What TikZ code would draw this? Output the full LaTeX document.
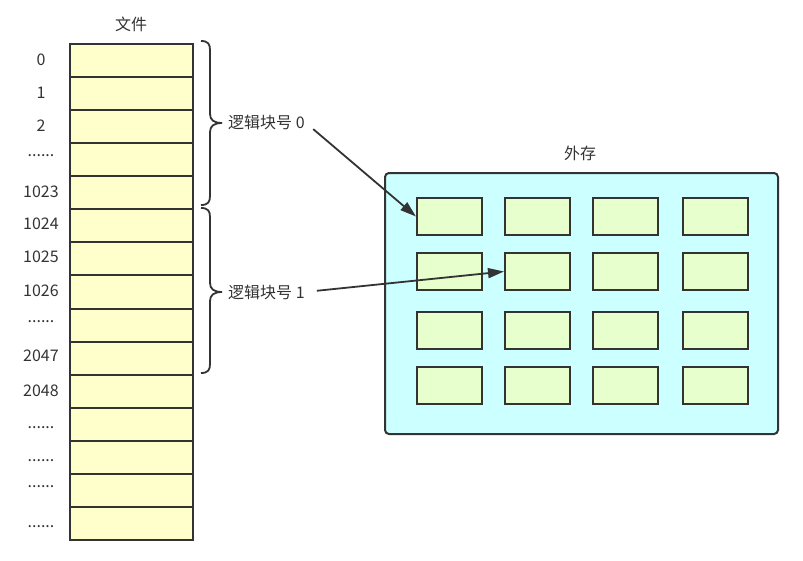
\documentclass[tikz,border=0pt]{standalone}
\usepackage{fontspec}
\setmainfont{Noto Sans CJK SC}
\usetikzlibrary{arrows.meta}
\definecolor{txt}{HTML}{333333}
\definecolor{lc}{HTML}{333333}
\definecolor{fileyellow}{HTML}{FFFFCC}
\definecolor{cyanbg}{HTML}{CCFFFF}
\definecolor{blkgreen}{HTML}{E6FFCC}
\newcommand{\sixdots}{......}
\begin{document}
\begin{tikzpicture}[x=1pt,y=-1pt,
  lbl/.style={text=txt, font=\fontsize{16}{18}\selectfont, inner sep=0pt},
  cell/.style={draw=lc, fill=fileyellow, minimum width=123pt, minimum height=33.07pt, inner sep=0pt, anchor=north west, line width=2pt},
  blk/.style={draw=lc, fill=blkgreen, minimum width=65pt, minimum height=37pt, inner sep=0pt, anchor=north west, line width=2pt},
  store/.style={draw=lc, fill=cyanbg, rounded corners=4pt, minimum width=393pt, minimum height=261pt, inner sep=0pt, anchor=north west, line width=2pt},
  brc/.style={draw=lc, line width=1.8pt},
  arr/.style={draw=lc, line width=1.8pt, -{Triangle[length=16pt,width=10pt]}}
  ]
\useasboundingbox (0,0) rectangle (803,560);
% file column
\foreach \i in {1,...,15}
  \node[cell] (r\i) at (69,{43+(\i-1)*33.07}) {};
\node[lbl] (file) at (131,24) {文件};
% row labels
\foreach \n/\t/\y in {a/0/59.5, b/1/93, c/2/126, d/\sixdots/156, e/1023/192, f/1024/224, g/1025/257, h/1026/291, i/\sixdots/322, j/2047/356, k/2048/391, l/\sixdots/428, m/\sixdots/461, n/\sixdots/487, o/\sixdots/527}
  \node[lbl] (t\n) at (41,\y) {\t};
% braces
\draw[brc] (201,41) .. controls (208,41) and (210,44) .. (210,50) -- (210,114) .. controls (210,120) and (214,123) .. (222,123) .. controls (214,123) and (210,126) .. (210,132) -- (210,196) .. controls (210,202) and (208,205) .. (201,205);
\draw[brc] (201,208) .. controls (208,208) and (210,211) .. (210,217) -- (210,283) .. controls (210,289) and (214,292) .. (222,292) .. controls (214,292) and (210,295) .. (210,301) -- (210,364) .. controls (210,370) and (208,373) .. (201,373);
\node[lbl, anchor=west] (l0) at (228,122) {逻辑块号 0};
\node[lbl, anchor=west] (l1) at (228,292) {逻辑块号 1};
% storage
\node[store] (st) at (384,172) {};
\node[lbl] (ext) at (580,153) {外存};
\foreach \r/\y in {1/197, 2/252, 3/311, 4/366}
  \foreach \c/\x in {1/416, 2/504, 3/592, 4/682}
    \node[blk] (b\r\c) at (\x,\y) {};
% arrows
\draw[arr, shorten <=11pt] (l0.east) -- (b11.west);
\draw[arr, shorten <=12pt] (l1.east) -- (b22.west);
\end{tikzpicture}
\end{document}
